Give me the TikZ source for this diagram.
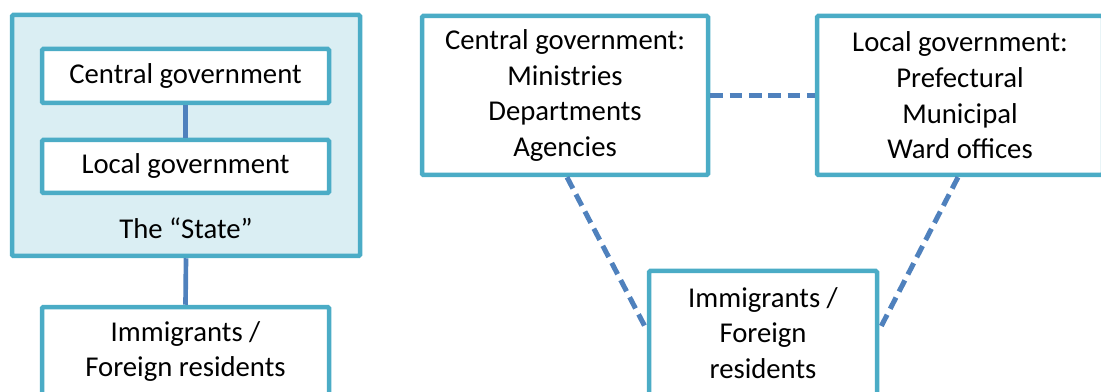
\documentclass[tikz,border=0pt]{standalone}
\usepackage{fontspec}
\setmainfont{Carlito}
\usepackage{xcolor}
\usepackage{tikz}
\usetikzlibrary{shapes,arrows,positioning}

\definecolor{boxline}{HTML}{4BACC6}
\definecolor{statefill}{HTML}{DAEEF3}
\definecolor{linkline}{HTML}{4F81BD}

\tikzset{
    govbox/.style={
        draw=boxline,
        line width=0.135cm,
        rounded corners=0.04cm,
        fill=white,
        align=center,
        inner sep=0pt,
        font=\fontsize{24.5}{30.5}\selectfont
    },
    statebox/.style={
        govbox,
        fill=statefill
    },
    link/.style={
        draw=linkline,
        line width=0.14cm
    },
    dashlink/.style={
        link,
        line width=0.15cm,
        dash pattern=on 0.38cm off 0.2cm
    }
}

\begin{document}
\begin{tikzpicture}
                \useasboundingbox (0,0) rectangle (33.03,-11.76);
                \clip (0,0) rectangle (33.03,-11.76);

                % left side: the state and the residents
                \node[statebox, minimum width=10.44cm, minimum height=7.23cm]
                    (state) at (5.58,-4.065) {};

                \node[govbox, minimum width=8.61cm, minimum height=1.62cm]
                    (lcentral) at (5.565,-2.28) {Central government};

                \node[govbox, minimum width=8.61cm, minimum height=1.59cm]
                    (llocal) at (5.565,-4.995) {Local government};

                \node[font=\fontsize{24.5}{30.5}\selectfont]
                    (statelabel) at (5.58,-6.84) {The “State”};

                \node[govbox, minimum width=8.61cm, minimum height=2.67cm]
                    (limm) at (5.565,-10.545) {Immigrants /\\Foreign residents};

                \draw[link] (lcentral.south) -- (llocal.north);
                \draw[link] (state.south) -- (limm.north);

                % right side: the three actors
                \node[govbox, minimum width=8.58cm, minimum height=4.77cm]
                    (rcentral) at (16.95,-2.865)
                    {Central government:\\Ministries\\Departments\\Agencies};

                \node[govbox, minimum width=8.58cm, minimum height=4.77cm]
                    (rlocal) at (28.8,-2.865)
                    {Local government:\\Prefectural\\Municipal\\Ward offices};

                \node[govbox, minimum width=6.84cm, minimum height=3.72cm]
                    (rimm) at (22.89,-9.99) {Immigrants /\\Foreign\\residents};

                \draw[dashlink] (rcentral.east) -- (rlocal.west);
                \draw[dashlink] ([xshift=0.06cm]rcentral.south) -- ([yshift=0.09cm]rimm.west);
                \draw[dashlink] ([xshift=-0.06cm]rlocal.south) -- ([yshift=0.09cm]rimm.east);

\end{tikzpicture}
\end{document}
